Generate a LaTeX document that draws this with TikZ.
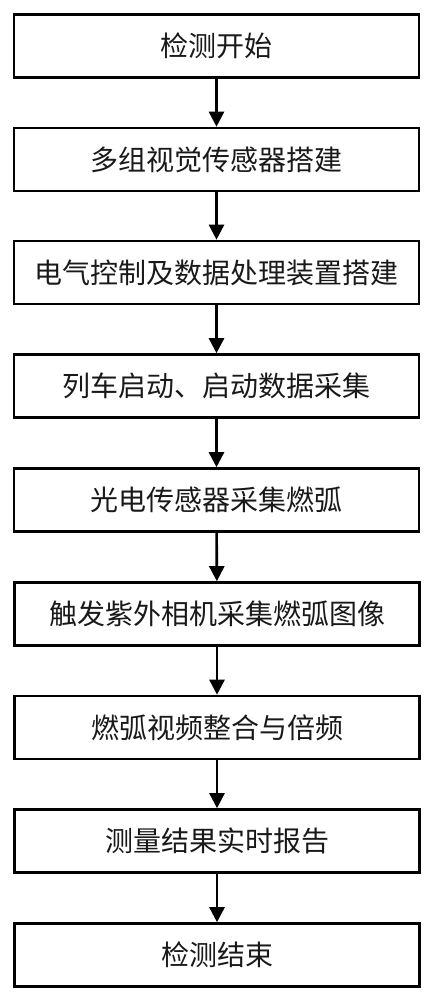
\documentclass[tikz,border=0pt]{standalone}
\usepackage{fontspec}
\newfontfamily\cjk{Noto Sans CJK SC}
\usetikzlibrary{arrows.meta}
\begin{document}
\begin{tikzpicture}[x=1pt,y=-1pt,
  stepbox/.style={draw=black,line width=2.6pt,minimum width=405pt,minimum height=63pt,inner sep=0pt,font=\cjk\fontsize{28pt}{32pt}\selectfont,text=black!90},
  conn/.style={line width=2.6pt,-{Triangle[width=15pt,length=15pt]}}]
\useasboundingbox (0,0) rectangle (433,1000);
\node[stepbox] (b1) at (216.5,46) {检测开始};
\node[stepbox] (b2) at (216.5,159.5) {多组视觉传感器搭建};
\node[stepbox] (b3) at (216.5,272.5) {电气控制及数据处理装置搭建};
\node[stepbox] (b4) at (216.5,386) {列车启动、启动数据采集};
\node[stepbox] (b5) at (216.5,500) {光电传感器采集燃弧};
\node[stepbox] (b6) at (217,614) {触发紫外相机采集燃弧图像};
\node[stepbox] (b7) at (217,727.5) {燃弧视频整合与倍频};
\node[stepbox] (b8) at (217,841) {测量结果实时报告};
\node[stepbox] (b9) at (217,955) {检测结束};
\foreach \a/\b in {b1/b2,b2/b3,b3/b4,b4/b5,b5/b6,b6/b7,b7/b8,b8/b9}
  \draw[conn] (\a) -- (\b);
\end{tikzpicture}
\end{document}
